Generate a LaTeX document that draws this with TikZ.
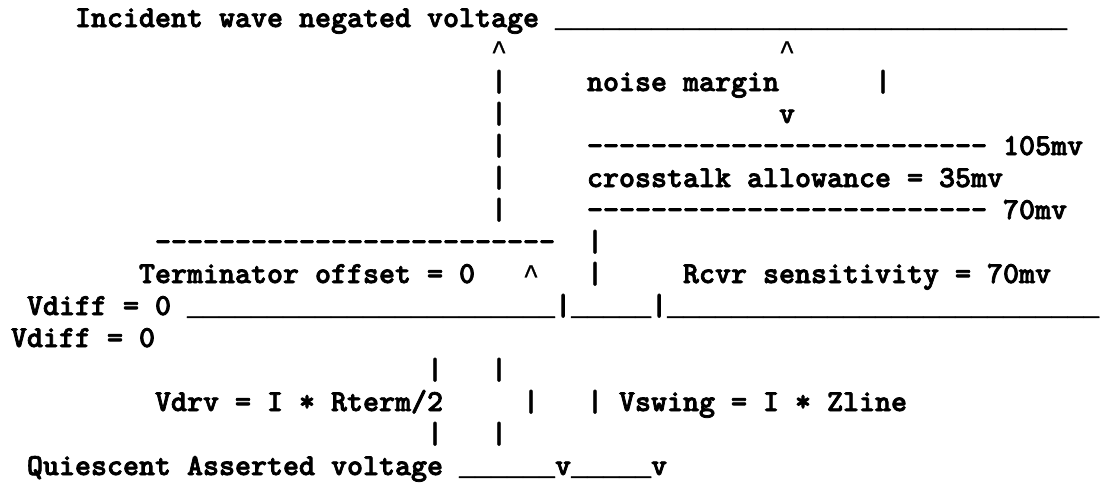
\documentclass[tikz,border=0pt]{standalone}
\usepackage{fontspec}
\newfontfamily\artfont{lmmonolt10-bold}[Extension=.otf, FakeBold=2.5]
\newfontfamily\lowfont{Liberation Mono}[FakeBold=1]
\usepackage{tikz}
\tikzset{%
  txt/.style={anchor=base west,inner sep=0pt,outer sep=0pt},
  pole/.style={txt}%
}
\newcommand\dashrun[1]{\foreach\k in {1,...,#1}{-}}
\newcommand\lowrun[1]{{\lowfont\fontsize{26.67pt}{32pt}\selectfont\foreach\k in {1,...,#1}{\_}}}
\newcommand\upmark{{\lowfont\fontsize{26.67pt}{32pt}\selectfont\textasciicircum}}

\begin{document}
\begin{tikzpicture}[
    x=1pt, y=-1pt,
    font=\artfont\fontsize{30.48pt}{32pt}\selectfont
]

% Canvas
\path[fill=white, use as bounding box] (0,0) rectangle (1108,483);

% Negated level and noise margin
\node[txt] (negated) at (75,27) {Incident wave negated voltage \lowrun{32}};
\node[txt] (upA) at (491,59) {\upmark};
\node[txt] (upB) at (779,59) {\upmark};
\node[pole] (barA2) at (491,91) {|};
\node[txt] (noise) at (587,91) {noise margin};
\node[pole] (barB2) at (875,91) {|};
\node[pole] (barA3) at (491,123) {|};
\node[txt] (downB) at (779,123) {v};

% Crosstalk band
\node[pole] (barA4) at (491,155) {|};
\node[txt] (lim105) at (587,155) {\dashrun{25} 105mv};
\node[pole] (barA5) at (491,187) {|};
\node[txt] (xtalk) at (587,187) {crosstalk allowance = 35mv};
\node[pole] (barA6) at (491,219) {|};
\node[txt] (lim70) at (587,219) {\dashrun{25} 70mv};

% Terminator offset and receiver sensitivity
\node[txt] (offset) at (155,251) {\dashrun{25}};
\node[pole] (barC7) at (587,251) {|};
\node[txt] (termlbl) at (139,283) {Terminator offset = 0};
\node[txt] (upC) at (523,283) {\upmark};
\node[pole] (barC8) at (587,283) {|};
\node[txt] (rcvr) at (683,283) {Rcvr sensitivity = 70mv};

% Vdiff = 0 level
\node[txt] (vdiffA) at (27,315) {Vdiff = 0 \lowrun{23}|\lowrun{5}|\lowrun{27}};
\node[txt] (vdiffB) at (11,347) {Vdiff = 0};

% Drive and swing
\node[pole] (barD11) at (427,379) {|};
\node[pole] (barA11) at (491,379) {|};
\node[txt] (vdrv) at (155,411) {Vdrv = I * Rterm/2};
\node[pole] (barE12) at (523,411) {|};
\node[txt] (vswing) at (587,411) {| Vswing = I * Zline};
\node[pole] (barD13) at (427,443) {|};
\node[pole] (barA13) at (491,443) {|};

% Quiescent asserted level
\node[txt] (quiescent) at (27,475) {Quiescent Asserted voltage \lowrun{6}v\lowrun{5}v};

\end{tikzpicture}
\end{document}
